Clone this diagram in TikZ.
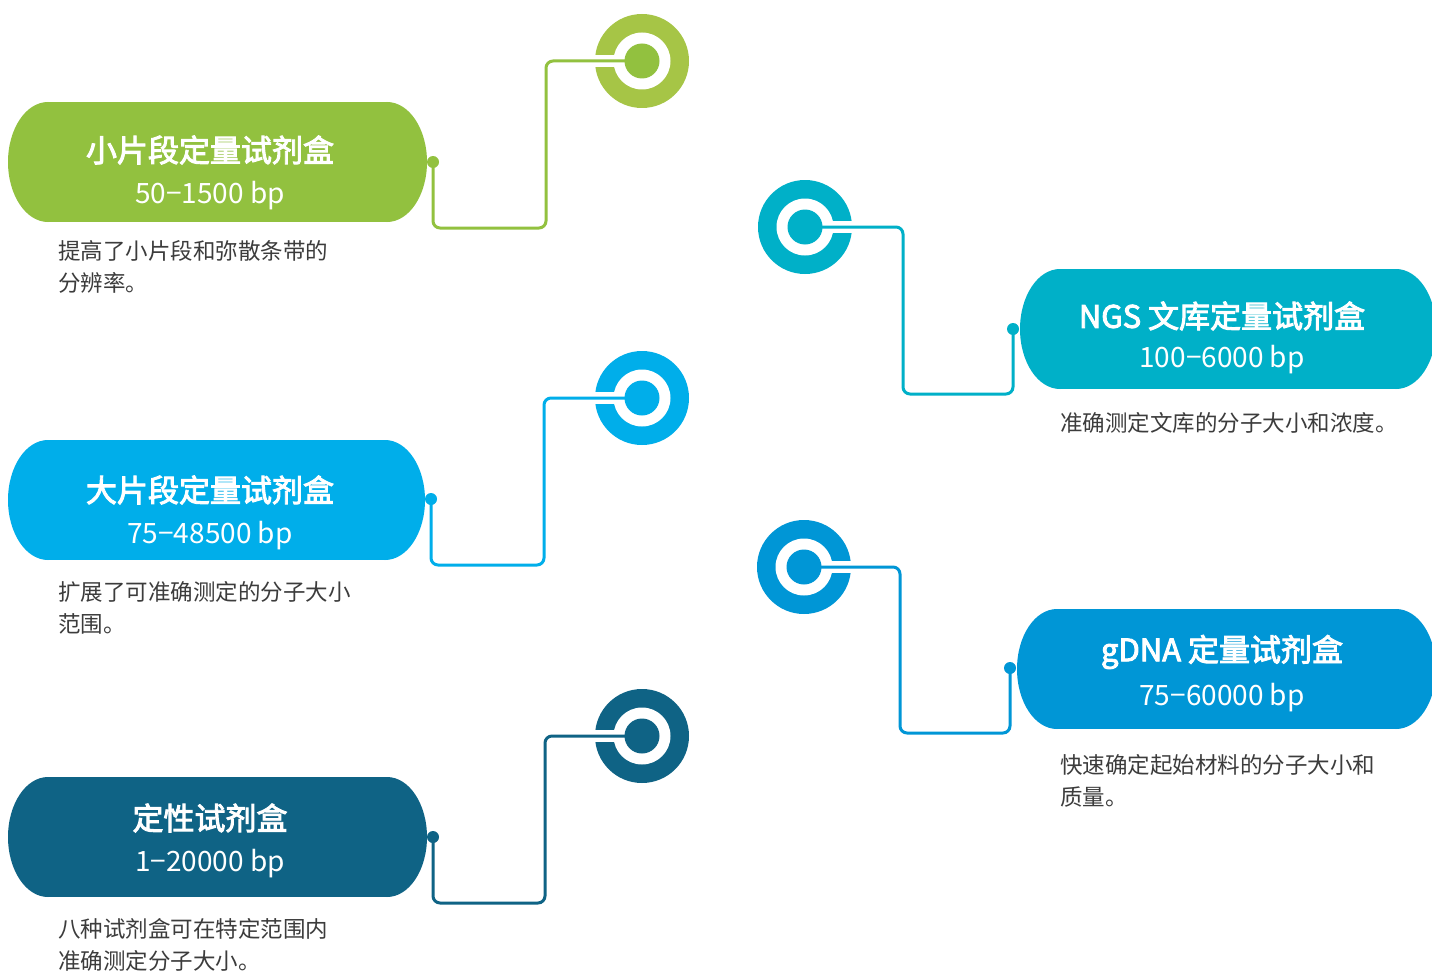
\documentclass[tikz,border=0pt]{standalone}
\usepackage{fontspec}
\setmainfont{Noto Sans CJK SC}
\newfontfamily\ttlfont{Noto Sans CJK SC}[FakeBold=3]
\newfontfamily\subfont{Noto Sans CJK SC}
\usetikzlibrary{calc}
\definecolor{cGreen}{HTML}{92C13F}
\definecolor{cGreenRing}{HTML}{A6C546}
\definecolor{cBlue}{HTML}{00AEEA}
\definecolor{cNavy}{HTML}{0F6385}
\definecolor{cTeal}{HTML}{00B0C8}
\definecolor{cMid}{HTML}{0096D6}
\definecolor{cText}{HTML}{3C3C3C}
\newcommand\mypill[4]{%
  \fill[#4] (#1+40,#3-60) rectangle (#2-40,#3+60);
  \fill[#4] (#1+40,#3) ellipse[x radius=40pt, y radius=60pt];
  \fill[#4] (#2-40,#3) ellipse[x radius=40pt, y radius=60pt];}
\newcommand\myring[4]{% name, x, y, color
  \fill[#4] (#2,#3) circle[radius=47pt];
  \fill[white] (#2,#3) circle[radius=28.5pt];
  \coordinate (#1) at (#2,#3);}
\tikzset{
  conn/.style={line width=3pt, rounded corners=7pt, draw=#1},
  enddot/.style={circle, inner sep=0pt, minimum size=12pt, fill=#1},
  cdot/.style={circle, inner sep=0pt, minimum size=35pt, fill=#1},
  ttl/.style={text=white, font=\ttlfont\fontsize{31}{36}\selectfont, inner sep=0pt},
  sub/.style={text=white, font=\subfont\fontsize{28}{32}\selectfont, inner sep=0pt},
  desc/.style={text=cText, font=\fontsize{22.5}{32}\selectfont, align=left, inner sep=0pt, anchor=west},
}
\begin{document}
\begin{tikzpicture}[x=1pt,y=-1pt]
\useasboundingbox (0,0) rectangle (1432,971);
\fill[white] (0,0) rectangle (1432,971);

% pills
\mypill{8}{427}{162}{cGreen}
\mypill{8}{425}{500}{cBlue}
\mypill{8}{427}{837}{cNavy}
\mypill{1020}{1436}{329}{cTeal}
\mypill{1017}{1436}{669}{cMid}

% rings
\myring{i1}{642}{61}{cGreenRing}
\myring{i2}{642}{398}{cBlue}
\myring{i3}{642}{736}{cNavy}
\myring{i4}{805}{227}{cTeal}
\myring{i5}{804}{567}{cMid}

% slots
\fill[white] ([shift={(-50,-6)}]i1) rectangle ([shift={(-20,6)}]i1);
\fill[white] ([shift={(-50,-6)}]i2) rectangle ([shift={(-20,6)}]i2);
\fill[white] ([shift={(-50,-6)}]i3) rectangle ([shift={(-20,6)}]i3);
\fill[white] ([shift={(20,-6)}]i4) rectangle ([shift={(50,6)}]i4);
\fill[white] ([shift={(20,-6)}]i5) rectangle ([shift={(50,6)}]i5);

% end dots on pills
\node[enddot=cGreen] (d1) at (433,162) {};
\node[enddot=cBlue] (d2) at (431,499) {};
\node[enddot=cNavy] (d3) at (433,837) {};
\node[enddot=cTeal] (d4) at (1013,329) {};
\node[enddot=cMid] (d5) at (1010,668) {};

% corners
\coordinate (c1) at (546,228);
\coordinate (c2) at (544,565);
\coordinate (c3) at (545,903);
\coordinate (c4) at (903,394);
\coordinate (c5) at (900,733);

% connectors
\draw[conn=cGreen] (d1.center) |- (c1) |- (i1);
\draw[conn=cBlue] (d2.center) |- (c2) |- (i2);
\draw[conn=cNavy] (d3.center) |- (c3) |- (i3);
\draw[conn=cTeal] (i4) -| (c4) -| (d4.center);
\draw[conn=cMid] (i5) -| (c5) -| (d5.center);

% center dots
\node[cdot=cGreen] (k1) at (i1) {};
\node[cdot=cBlue] (k2) at (i2) {};
\node[cdot=cNavy] (k3) at (i3) {};
\node[cdot=cTeal] (k4) at (i4) {};
\node[cdot=cMid] (k5) at (i5) {};

% texts
\node[ttl] (t1) at (210,150) {小片段定量试剂盒};
\node[sub] (s1) at (210,196) {50−1500 bp};
\node[ttl] (t2) at (210,490) {大片段定量试剂盒};
\node[sub] (s2) at (210,536) {75−48500 bp};
\node[ttl] (t3) at (210,818) {定性试剂盒};
\node[sub] (s3) at (210,864) {1−20000 bp};
\node[ttl] (t4) at (1222,316) {NGS 文库定量试剂盒};
\node[sub] (s4) at (1222,360) {100−6000 bp};
\node[ttl] (t5) at (1222,652) {gDNA 定量试剂盒};
\node[sub] (s5) at (1222,698) {75−60000 bp};

\node[desc] (e1) at (58,267) {提高了小片段和弥散条带的\\分辨率。};
\node[desc] (e2) at (58,608) {扩展了可准确测定的分子大小\\范围。};
\node[desc] (e3) at (58,945) {八种试剂盒可在特定范围内\\准确测定分子大小。};
\node[desc] (e4) at (1060,423) {准确测定文库的分子大小和浓度。};
\node[desc] (e5) at (1060,781) {快速确定起始材料的分子大小和\\质量。};
\end{tikzpicture}
\end{document}
